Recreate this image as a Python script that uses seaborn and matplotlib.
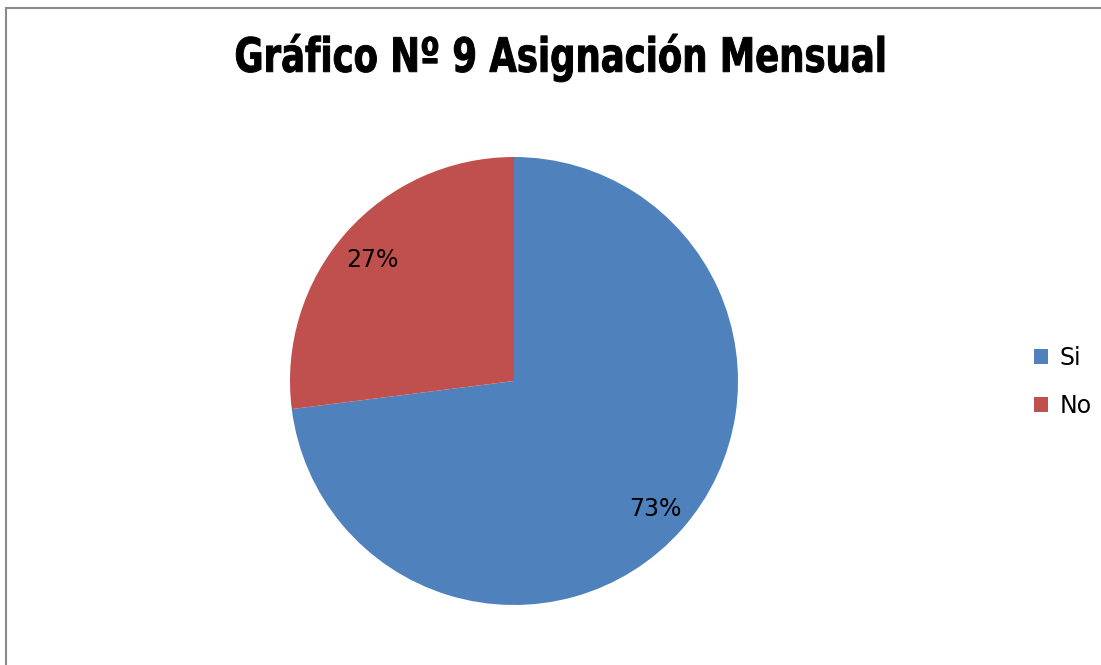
import matplotlib
matplotlib.use("Agg")
import matplotlib.pyplot as plt
import seaborn as sns
from matplotlib.patches import Rectangle
from matplotlib.patheffects import AbstractPathEffect
from matplotlib.transforms import Affine2D

categories = ["Si", "No"]
values = [73, 27]
title = "Gráfico Nº 9 Asignación Mensual"

sns.set_theme(style="white")
plt.rcParams['font.family'] = ['DejaVu Sans']
plt.rcParams['text.color'] = 'black'
colors = ["#4F81BD", "#C0504D"]

W, H = 1101, 665
fig = plt.figure(figsize=(W / 100, H / 100), dpi=100)
fig.patch.set_facecolor("white")


class HScaleStroke(AbstractPathEffect):
    """Squeeze text horizontally around a display x position and thicken it."""
    def __init__(self, sx, cx_px, lw):
        super().__init__()
        self.sx = sx
        self.cx = cx_px
        self.lw = lw

    def draw_path(self, renderer, gc, tpath, affine, rgbFace=None):
        aff = affine + Affine2D().translate(-self.cx, 0).scale(self.sx, 1).translate(self.cx, 0)
        gc0 = renderer.new_gc()
        gc0.copy_properties(gc)
        gc0.set_linewidth(self.lw)
        gc0.set_foreground(rgbFace if rgbFace is not None else "black")
        gc0.set_joinstyle("round")
        renderer.draw_path(gc0, tpath, aff, rgbFace)
        gc0.restore()


cx, cy, r = 514, 381, 224
ax = fig.add_axes([(cx - r) / W, (H - cy - r) / H, 2 * r / W, 2 * r / H])
wedges, texts, autotexts = ax.pie(
    values, colors=colors, startangle=90, counterclock=False,
    autopct="%1.0f%%", pctdistance=0.84,
    textprops=dict(fontsize=17, color="black"),
    wedgeprops=dict(linewidth=0))
ax.set_aspect("equal")
ax.set_xlim(-1, 1)
ax.set_ylim(-1, 1)
ax.axis("off")
for t in autotexts:
    x, y = t.get_position()
    t.set_position((x, y - 0.015))

title_cx = 561
fig.text(title_cx / W, 1 - 58 / H, title, ha="center", va="center",
         fontsize=34, fontweight="bold", fontstretch="condensed", color="black",
         path_effects=[HScaleStroke(0.835, title_cx, 0.7)])

leg = fig.legend(wedges, categories, loc="center left",
                 bbox_to_anchor=(1022 / W, 1 - 382 / H), frameon=False,
                 fontsize=17, handlelength=0.6, handleheight=0.6,
                 handletextpad=0.5, labelspacing=1.0, borderpad=0,
                 labelcolor="black")

border = Rectangle((6 / W, -0.2), 2.0, 1.2 - 8 / H, transform=fig.transFigure,
                   fill=False, edgecolor="#8a8a8a", linewidth=1.5, clip_on=False)
fig.patches.append(border)

fig.savefig("out.png", dpi=100)
